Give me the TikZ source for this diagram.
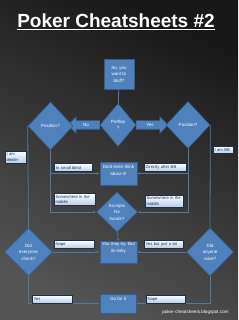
\documentclass[tikz,border=0pt]{standalone}
\usepackage{fontspec}
\setmainfont{Liberation Sans}
\usepackage{tikz}
\usetikzlibrary{arrows.meta, positioning, shapes.geometric, shapes.arrows}
\definecolor{bgtop}{HTML}{181818}
\definecolor{bgbot}{HTML}{545454}
\definecolor{boxblue}{HTML}{4F81BD}
\definecolor{boxedge}{HTML}{385D8A}
\definecolor{tagblue}{HTML}{B9CDE5}
\definecolor{tagedge}{HTML}{1F2F45}
\definecolor{tagtext}{HTML}{17375E}
\definecolor{wirecol}{HTML}{56779F}

\begin{document}
\begin{tikzpicture}[
        x=1pt, y=-1pt,
        box/.style={rectangle, draw=boxedge, fill=boxblue, line width=0.6pt, text=white, font=\fontsize{4.5}{6.5}\selectfont, align=center, inner sep=1pt},
        choice/.style={diamond, draw=boxedge, fill=boxblue, line width=0.6pt, text=white, font=\fontsize{4.5}{6.5}\selectfont, align=center, inner sep=0pt},
        tag/.style={rectangle, draw=tagedge, line width=0.5pt, top color=white, bottom color=tagblue, text=tagtext, font=\fontsize{4.2}{5.6}\selectfont, align=left, inner sep=1.5pt, minimum height=8pt, text width=#1},
        barrow/.style={single arrow, draw=boxedge, fill=boxblue, line width=0.6pt, text=white, font=\fontsize{4.5}{6}\selectfont, text height=4pt, text depth=1pt, inner ysep=1.5pt, inner xsep=1pt, single arrow head extend=4pt, minimum height=32pt},
        wire/.style={draw=wirecol, line width=0.8pt},
        arr/.style={wire, -{Latex[length=2.5pt, width=2.5pt]}}
    ]
        % Background
        \shade[top color=bgtop, bottom color=bgbot, shading angle=-25] (0,0) rectangle (238,320);
        \useasboundingbox (0,0) rectangle (238,320);

        % Title
        \node[text=white, font=\fontsize{19}{22}\bfseries\selectfont] (title) at (116,22) {\underline{Poker Cheatsheets \#2}};

        % Block arrows out of preflop
        \node[barrow, shape border rotate=180] (noArr) at (86,125) {No};
        \node[barrow] (yesArr) at (150,125) {Yes};

        % Questions
        \node[box, minimum width=30pt, minimum height=30pt] (start) at (119,74) {So, you\\want to\\bluff?};
        \node[choice, minimum width=36pt, minimum height=43pt] (preflop) at (118,125) {Preflop\\?};
        \node[choice, minimum width=45pt, minimum height=48pt] (posL) at (50.5,126) {Position?};
        \node[choice, minimum width=44pt, minimum height=47pt] (posR) at (188,125) {Position?};
        \node[box, minimum width=37pt, minimum height=23pt, text depth=6pt] (dont) at (118.5,173.5) {Dont even think\\about it!};
        \node[choice, minimum width=41pt, minimum height=40pt] (accepts) at (117,212) {Accepts\\his\\hands?};
        \node[box, minimum width=37pt, minimum height=22pt, text depth=10pt] (risky) at (118.5,252.5) {You may try. But\\its risky};
        \node[choice, minimum width=48pt, minimum height=48pt] (checkD) at (28.5,252) {Did\\everyone\\check?};
        \node[choice, minimum width=47pt, minimum height=48pt] (raiseD) at (210,252) {Did\\anyone\\raise?};
        \node[box, minimum width=36pt, minimum height=19pt, text depth=9pt] (gofor) at (118,303.5) {Go for it};

        % Connectors
        \draw[wire] (start) -- (preflop);
        \draw[wire] (posL.west) -- (checkD.north);
        \draw[wire] (posR.east) -- (raiseD.north);
        \draw[arr] (posL.south) |- (dont.west);
        \draw[arr] (posL.south) |- (accepts.west);
        \draw[arr] (posR.south) |- (dont.east);
        \draw[arr] (posR.south) |- (accepts.east);
        \draw[arr] (accepts) -- (risky);
        \draw[arr] (checkD.east) -- (checkD.east -| risky.west);
        \draw[arr] (raiseD.west) -- (raiseD.west -| risky.east);
        \draw[arr] (checkD.south) |- (gofor.west);
        \draw[arr] (raiseD.south) |- (gofor.east);

        % Answers
        \node[tag=18pt] (lblDealer) at (15.5,157) {I am\\dealer};
        \node[tag=17pt, minimum height=7pt] (lblBB) at (223,150) {I am BB};
        \node[tag=35pt] (lblSmall) at (73.5,167.5) {In small blind};
        \node[tag=39pt] (lblAfter) at (165,167.5) {Directly after BB};
        \node[tag=38pt] (lblMidL) at (74.5,199.5) {Somewhere in the\\middle};
        \node[tag=35pt] (lblMidR) at (164,201) {Somewhere in the\\middle};
        \node[tag=37pt] (lblNopeL) at (74,244.5) {Nope};
        \node[tag=36pt] (lblYesR) at (163.5,244) {Yes but just a bit};
        \node[tag=37pt] (lblYes) at (52,299) {Yes};
        \node[tag=36pt] (lblNopeB) at (165.5,299) {Nope};

        % Watermark
        \node[text=white, font=\fontsize{4.6}{5.5}\selectfont] (site) at (195.5,312) {poker-cheatsheets.blogspot.com};
    \end{tikzpicture}
\end{document}
